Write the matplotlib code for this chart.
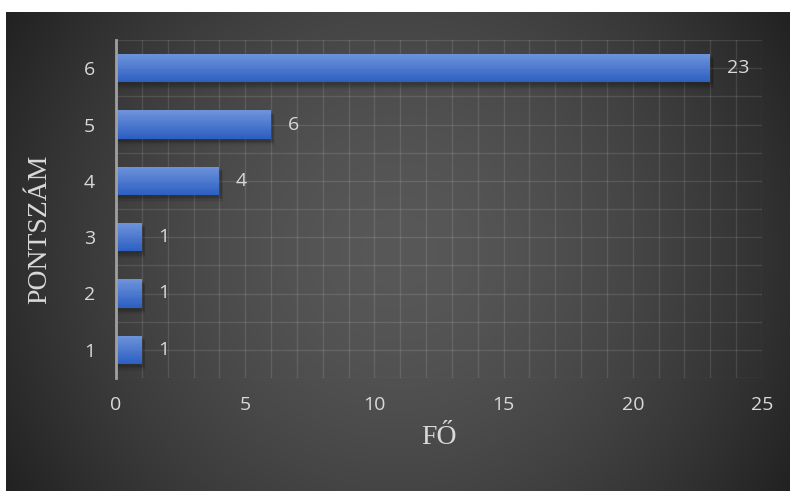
import numpy as np
import matplotlib
matplotlib.use("Agg")
import matplotlib.pyplot as plt
from matplotlib.patches import Rectangle

# ----------------------------------------------------------------------
# Data
# ----------------------------------------------------------------------
categories = ['1', '2', '3', '4', '5', '6']
values = [1, 1, 1, 4, 6, 23]
x_ticks = [0, 5, 10, 15, 20, 25]

x_title = 'FŐ'
y_title = 'PONTSZÁM'

text_color = '#D9D9D9'
tick_font = 'Open Sans'
title_font = 'Liberation Serif'

# ----------------------------------------------------------------------
# Figure + dark radial background panel (pixel image)
# ----------------------------------------------------------------------
W, H = 790, 491
fig = plt.figure(figsize=(W / 100, H / 100), dpi=100)
fig.patch.set_facecolor('white')

px, py = np.meshgrid(np.arange(W), np.arange(H))
cx, cy = (6 + W) / 2, (12 + H) / 2
r = np.sqrt((px - cx) ** 2 + (py - cy) ** 2) / 458.0
r = np.clip(r, 0, 1)
shade = (88 - 54.5 * r ** 1.6) / 255
shade[(px < 6) | (py < 12)] = 1.0
fig.figimage(np.dstack([shade, shade, shade]), 0, 0, origin='upper', zorder=0)

# ----------------------------------------------------------------------
# Main axes
# ----------------------------------------------------------------------
ax = fig.add_axes([116 / W, 1 - 378 / H, 646 / W, 338 / H])
ax.set_zorder(2)
ax.patch.set_alpha(0)

y = np.arange(len(categories))
bar_h = 0.5

# bar gradient colours (light top -> darker bottom), drawn as thin slices
top = np.array([0x6E, 0x93, 0xDA]) / 255
bot = np.array([0x2C, 0x5F, 0xC2]) / 255
n_slices = 24

for yi, v in zip(y, values):
    # soft shadow under each bar
    for k, a in enumerate([0.10, 0.08, 0.06, 0.04]):
        d = 0.025 * (k + 1)
        ax.add_patch(Rectangle((0, yi - bar_h / 2 - d - 0.03), v + 0.08 + d * 0.6,
                               bar_h + d * 0.5, facecolor='black', alpha=a,
                               edgecolor='none', zorder=2))
    ax.barh(yi, v, height=bar_h, color='#4472C4', zorder=3)
    sh = bar_h / n_slices
    for j in range(n_slices):
        t = (j + 0.5) / n_slices
        col = top + (bot - top) * t
        y0 = yi + bar_h / 2 - (j + 1) * sh
        ax.barh(y0, v, height=sh * 1.05, align='edge', color=col,
                linewidth=0, zorder=4)
    ax.annotate(str(v), (v, yi), xytext=(12, 0), textcoords='offset points',
                va='center', ha='left', color=text_color,
                fontsize=14, family=tick_font, zorder=5)

ax.set_xlim(0, 25)
ax.set_ylim(-0.5, len(categories) - 0.5)

ax.set_xticks(x_ticks)
ax.set_xticklabels([str(t) for t in x_ticks])
ax.set_xticks(np.arange(0, 26, 1), minor=True)
ax.set_yticks(y)
ax.set_yticklabels(categories)
ax.set_yticks(np.arange(-0.5, len(categories), 1), minor=True)

ax.grid(True, which='both', color='white', alpha=0.11, linewidth=1.0, zorder=1)
ax.set_axisbelow(True)

ax.tick_params(which='both', length=0)
ax.tick_params(axis='x', pad=13, labelsize=14, labelcolor=text_color)
ax.tick_params(axis='y', pad=15, labelsize=14, labelcolor=text_color)
for lbl in ax.get_xticklabels() + ax.get_yticklabels():
    lbl.set_family(tick_font)

for s in ['top', 'right', 'bottom']:
    ax.spines[s].set_visible(False)
ax.spines['left'].set_color('#A0A0A0')
ax.spines['left'].set_linewidth(2)
ax.spines['left'].set_zorder(6)

ax.set_xlabel(x_title, fontsize=20, family=title_font, color=text_color)
ax.set_ylabel(y_title, fontsize=20, family=title_font, color=text_color)
ax.xaxis.set_label_coords(0.5, -0.175)
ax.yaxis.set_label_coords(-0.118, 0.44)
ax.xaxis.label.set_va('center')
ax.yaxis.label.set_va('center')

fig.savefig('out.png', dpi=100)
